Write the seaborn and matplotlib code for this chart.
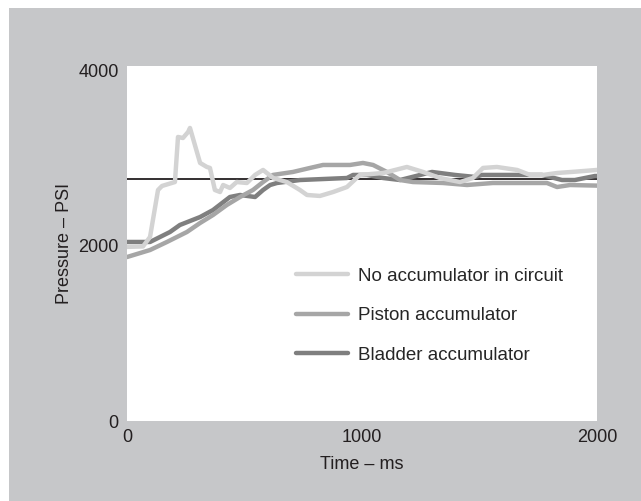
import matplotlib
matplotlib.use("Agg")
import matplotlib.pyplot as plt
import seaborn as sns
import numpy as np
import pandas as pd
from matplotlib.patches import Rectangle

# values (ms, psi)
none_t = [0, 68, 98, 132, 149, 204, 217, 238, 260, 268, 311, 340, 353, 374, 396, 409, 438,
          467, 510, 545, 579, 622, 680, 736, 766, 821, 877, 936, 991, 1090, 1191, 1260, 1332,
          1417, 1472, 1515, 1574, 1660, 1715, 1770, 1830, 1910, 2000]
none_p = [1990, 1995, 2103, 2640, 2686, 2731, 3246, 3234, 3303, 3349, 2949, 2903, 2892, 2640,
          2617, 2697, 2663, 2731, 2720, 2812, 2869, 2777, 2731, 2640, 2583, 2572, 2617, 2674,
          2812, 2834, 2903, 2846, 2777, 2731, 2777, 2892, 2903, 2869, 2812, 2812, 2834, 2850, 2869]

piston_t = [0, 98, 170, 255, 311, 366, 425, 481, 536, 579, 621, 706, 779, 834, 949, 1004, 1047,
            1106, 1162, 1217, 1345, 1447, 1557, 1685, 1787, 1830, 1885, 2000]
piston_p = [1874, 1954, 2046, 2160, 2263, 2354, 2469, 2560, 2640, 2731, 2812, 2846, 2892, 2926,
            2926, 2949, 2926, 2846, 2754, 2731, 2720, 2697, 2720, 2720, 2720, 2674, 2697, 2690]

bladder_t = [0, 98, 183, 225, 311, 366, 438, 481, 545, 579, 609, 638, 736, 936, 962, 1021, 1090,
             1162, 1298, 1396, 1481, 1510, 1621, 1766, 1851, 1906, 1991, 2000]
bladder_p = [2046, 2046, 2160, 2240, 2331, 2411, 2560, 2583, 2560, 2640, 2697, 2720, 2754, 2777,
             2812, 2812, 2777, 2754, 2846, 2812, 2789, 2812, 2812, 2812, 2754, 2754, 2800, 2800]

labels = ["No accumulator in circuit", "Piston accumulator", "Bladder accumulator"]
colors = ["#d3d3d3", "#a6a6a6", "#7f7f7f"]
target = 2760

df = pd.concat([
    pd.DataFrame({"t": none_t, "p": none_p, "series": labels[0]}),
    pd.DataFrame({"t": piston_t, "p": piston_p, "series": labels[1]}),
    pd.DataFrame({"t": bladder_t, "p": bladder_p, "series": labels[2]}),
])

sns.set_style("white")
plt.rcParams["font.family"] = ["Liberation Sans", "DejaVu Sans"]

fig = plt.figure(figsize=(6.41, 5.01), dpi=100, facecolor="white")
# grey panel behind everything
bg = Rectangle((9 / 641, 0), 1, 1 - 8 / 501, transform=fig.transFigure,
               facecolor="#c6c7c9", edgecolor="none", zorder=-10)
fig.add_artist(bg)
ax = fig.add_axes([127 / 641, 1 - 421 / 501, 470 / 641, 355 / 501])
ax.set_zorder(1)
ax.set_facecolor("white")

ax.axhline(target, color="#231f20", lw=1.3, zorder=1)
sns.lineplot(data=df, x="t", y="p", hue="series", palette=dict(zip(labels, colors)),
             hue_order=labels[::-1], lw=3.2, ax=ax, sort=False, estimator=None, zorder=2)

ax.set_xlim(0, 2000)
ax.set_ylim(0, 4057)
ax.set_xticks([0, 1000, 2000])
ax.set_yticks([0, 2000, 4000])
ax.tick_params(length=0, labelsize=13, colors="#231f20", pad=6)
for s in ax.spines.values():
    s.set_visible(False)
ax.set_xlabel("Time – ms", fontsize=13, color="#231f20", labelpad=7)
ax.set_ylabel("Pressure – PSI", fontsize=13, color="#231f20", labelpad=4)

handles, labs = ax.get_legend_handles_labels()
order = [labs.index(l) for l in labels]
ax.legend([handles[i] for i in order], labels, frameon=False, fontsize=13.5,
          handlelength=2.8, handletextpad=0.55, labelspacing=1.2,
          loc="upper left", bbox_to_anchor=(0.323, 0.48))

fig.savefig("out.png", dpi=100, facecolor=fig.get_facecolor())
